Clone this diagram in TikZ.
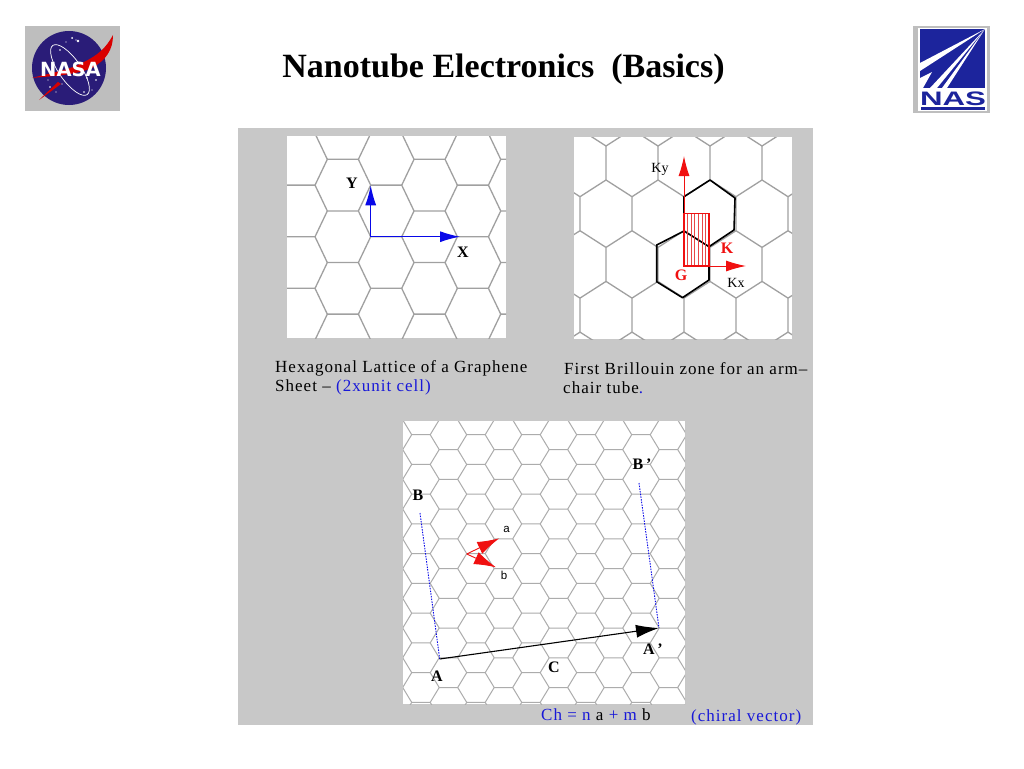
\documentclass[tikz,border=0pt]{standalone}
\usepackage{fontspec}
\setmainfont{Liberation Serif}
\newfontfamily\sansf{Liberation Sans}
\newfontfamily\heavyf{DejaVu Sans}
\newfontfamily\capf[LetterSpace=6]{Liberation Serif}
\usetikzlibrary{arrows.meta}
\definecolor{panelgray}{HTML}{C8C8C8}
\definecolor{latgray}{HTML}{A0A0A0}
\definecolor{latlight}{HTML}{ACACAC}
\definecolor{txtblue}{HTML}{1818D8}
\definecolor{arrblue}{HTML}{0808E8}
\definecolor{arrred}{HTML}{F01010}
\definecolor{hatchred}{HTML}{E84848}
\definecolor{nasanavy}{HTML}{2A1C78}
\definecolor{nasgray}{HTML}{BEBEBE}
\definecolor{nasblue}{HTML}{1C249C}
% flat-top lattice: ox oy P h d v
\newcommand{\hexH}[6]{%
  \foreach \j in {-12,...,20}{%
    \pgfmathsetmacro\yy{#2+\j*#6}%
    \pgfmathsetmacro\off{mod(abs(\j),2)*#3/2}%
    \foreach \i in {-3,...,6}{%
      \pgfmathsetmacro\xa{#1+\off+\i*#3}%
      \draw (\xa-#5,\yy+#6)--(\xa,\yy)--(\xa+#4,\yy)--(\xa+#4+#5,\yy+#6);
    }}}
% pointy-top lattice: ox oy P h d R
\newcommand{\hexV}[6]{%
  \foreach \j in {-3,...,4}{%
    \pgfmathsetmacro\yy{#2+\j*#6}%
    \pgfmathsetmacro\off{mod(abs(\j),2)*#3/2}%
    \foreach \i in {-3,...,4}{%
      \pgfmathsetmacro\xa{#1+\off+\i*#3}%
      \draw (\xa-#3/2,\yy-#5)--(\xa,\yy)--(\xa+#3/2,\yy-#5) (\xa,\yy)--(\xa,\yy+#4);
    }}}
\tikzset{
  lat/.style={draw=latgray,line width=1.3pt},
  latsmall/.style={draw=latlight,line width=1pt},
  whitebox/.style={fill=white,draw=none},
  vecblue/.style={draw=arrblue,line width=1.2pt,-{Latex[length=20pt,width=11pt]}},
  vecred/.style={draw=arrred,line width=1pt,-{Latex[length=20pt,width=11pt]}},
  vecthick/.style={draw=arrred,line width=.9pt,-{Latex[length=22pt,width=13pt]}},
  vecblack/.style={draw=black,line width=1.1pt,-{Latex[length=23pt,width=13pt]}},
  dotblue/.style={draw=arrblue,line width=.9pt,dash pattern=on 1.5pt off 1.2pt},
  bzone/.style={draw=black,line width=1.6pt,line join=round},
  lab/.style={font=\fontsize{16}{16}\selectfont\bfseries,inner sep=0pt},
  labk/.style={font=\fontsize{14}{14}\selectfont,inner sep=0pt},
  labs/.style={font=\sansf\fontsize{11.5}{11.5}\selectfont,inner sep=0pt},
  capt/.style={font=\capf\fontsize{17}{17}\selectfont,inner sep=0pt,anchor=base west},
}
\begin{document}
\begin{tikzpicture}[x=1pt,y=-1pt]
\useasboundingbox (0,0) rectangle (1024,768);
\fill[white] (0,0) rectangle (1024,768);
\node[font=\fontsize{34}{34}\selectfont\bfseries,inner sep=0pt] (title) at (503.5,69.5) {Nanotube Electronics\ \ (Basics)};
% NASA logo
\fill[nasgray] (25,26) rectangle (120,111);
\fill[nasanavy] (69,68) circle (37);
\draw[white,line width=.7pt,rotate around={35:(70,70)}] (70,70) ellipse (11 and 30);
\foreach \p/\r in {{(72,38)}/1,{(78,41)}/1.3,{(66,42)}/.7,{(60,50)}/.8,{(50,87)}/.8,{(56,92)}/.7,{(62,84)}/.7,{(87,78)}/.9,{(96,80)}/.8,{(92,90)}/.7,{(84,92)}/.8,{(76,40)}/.6,{(48,80)}/.6}{\fill[white] \p circle (\r);}
\fill[red!85!black] (113,35) .. controls (113,50) and (106,60) .. (92,68) .. controls (72,76) and (50,76) .. (32,78) .. controls (50,73) and (70,70) .. (84,62) .. controls (98,55) and (106,48) .. (113,35) -- cycle;
\fill[red!85!black] (39,100) -- (58,82) -- (61,84) -- cycle;
\node[font=\heavyf\fontsize{19.5}{19.5}\selectfont\bfseries,text=white,inner sep=0pt] (nasa) at (70.5,69) {NASA};
% NAS logo
\fill[nasgray] (913,26) rectangle (990,113);
\fill[white] (918,28) rectangle (987,111);
\fill[nasblue] (920,29) rectangle (985,88);
\fill[nasblue] (921,107) rectangle (985,110);
\fill[white] (985,29) -- (920,63) -- (920,71) -- cycle;
\fill[white] (985,29) -- (930,88) -- (937,88) -- cycle;
\fill[white] (985,29) -- (942,88) -- (947,88) -- cycle;
\fill[white] (920,78) -- (932,72) -- (923,88) -- (920,88) -- cycle;
\node[font=\sansf\fontsize{19.5}{19.5}\selectfont\bfseries,text=nasblue,inner sep=0pt,xscale=1.6] (nas) at (953,98.5) {NAS};
% panel
\fill[panelgray] (238,128) rectangle (813,725);
% panel 1
\fill[whitebox] (287,136) rectangle (506,338);
\begin{scope}
\clip (287,136) rectangle (506,338);
\begin{scope}[lat]\hexH{370.7}{236.7}{86.7}{31}{12.3}{25.8}\end{scope}
\end{scope}
\coordinate (o1) at (370.7,236.7);
\coordinate (xt) at (460,236.7);
\coordinate (yt) at (370.7,185.3);
\draw[vecblue] (o1)--(xt);
\draw[vecblue] (o1)--(yt);
\node[lab] (ly) at (352,183) {Y};
\node[lab] (lx) at (463,252) {X};
% panel 2
\fill[whitebox] (574,137) rectangle (792,339);
\begin{scope}
\clip (574,137) rectangle (792,339);
\begin{scope}[lat]\hexV{684}{196.7}{52}{34}{16.7}{50.7}\end{scope}
\end{scope}
\draw[bzone] (684,196.7)--(710,180)--(735,198)--(734,230)--(709,246.7)--(684,231)--cycle;
\draw[bzone] (684,231)--(656.7,245)--(656.7,281.7)--(682.5,297.7)--(709,280)--(709,246.7);
\foreach \hx in {687.6,691.2,694.8,698.4,702,705.6}{\draw[hatchred,line width=.8pt] (\hx,213.3)--(\hx,266);}
\draw[arrred,line width=1.1pt] (684,213.3) rectangle (709,266);
\coordinate (gk) at (684,266);
\coordinate (kyt) at (684,156);
\coordinate (kxt) at (746,266);
\draw[vecred] (gk)--(kyt);
\draw[vecred] (gk)--(kxt);
\node[labk] (lky) at (660,169) {Ky};
\node[labk] (lkx) at (736,283) {Kx};
\node[lab,text=arrred] (lk) at (727,248) {K};
\node[lab,text=arrred] (lg) at (681,275) {G};
% captions
\node[capt] (c1) at (275,372) {Hexagonal Lattice of a Graphene};
\node[capt] (c2) at (275,391) {Sheet \textendash\ \textcolor{txtblue}{(2xunit cell)}};
\node[capt] (c3) at (564,374) {First Brillouin zone for an arm\textendash};
\node[capt] (c4) at (563,393) {chair tube\textcolor{txtblue}{.}};
% panel 3
\fill[whitebox] (403,421) rectangle (685,704);
\begin{scope}
\clip (403,421) rectangle (685,704);
\begin{scope}[latsmall]\hexH{411.7}{434.7}{55}{18.5}{9}{14.87}\end{scope}
\end{scope}
\coordinate (A) at (439.7,659);
\coordinate (Ap) at (659,628);
\coordinate (B) at (420,513);
\coordinate (Bp) at (639,483);
\draw[dotblue] (B)--(A);
\draw[dotblue] (Bp)--(Ap);
\draw[vecblack] (A)--(Ap);
\coordinate (ro) at (466.7,554);
\coordinate (ra) at (499.3,538.3);
\coordinate (rb) at (496,567.3);
\draw[vecthick] (ro)--(ra);
\draw[vecthick] (ro)--(rb);
\node[labs] (la) at (506.5,529) {a};
\node[labs] (lb) at (504,575.5) {b};
\node[lab] (lB) at (418,495) {B};
\node[lab] (lBp) at (642,464) {B\,’};
\node[lab] (lA) at (437,676) {A};
\node[lab] (lAp) at (653,649) {A\,’};
\node[lab] (lC) at (554,667) {C};
\node[capt,anchor=base west] (ch) at (541,720) {\textcolor{txtblue}{Ch = n} a \textcolor{txtblue}{+ m} b};
\node[capt,anchor=base west,text=txtblue] (cv) at (691,721) {(chiral vector)};
\end{tikzpicture}
\end{document}
